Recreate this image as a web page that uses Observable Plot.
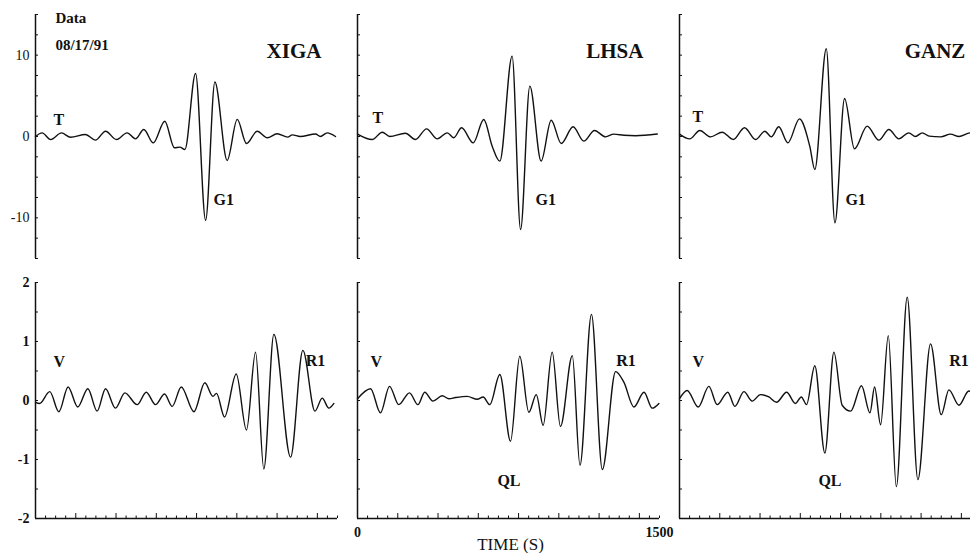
<!DOCTYPE html>
<html>
<head>
<meta charset="utf-8">
<script src="https://cdn.jsdelivr.net/npm/d3@7"></script>
<script src="https://cdn.jsdelivr.net/npm/@observablehq/plot@0.6"></script>
<style>
html, body { margin: 0; padding: 0; background: #fff; overflow: hidden; }
#chart { position: relative; width: 970px; height: 553px; overflow: hidden; background: #fff; }
#chart > div { position: absolute; }
#chart svg { max-width: none !important; display: block; }
</style>
</head>
<body>
<div id="chart"></div>
<script>
// ---------- data ----------
const stations = ["XIGA", "LHSA", "GANZ"];
const components = ["T", "V"];

// Transverse (T) traces: time (s) and amplitude
const xigaT_time = [0, 33, 75, 129, 174, 248, 298, 348, 402, 455, 497, 538, 585, 642, 690, 717, 742, 795, 845, 891, 952, 1002, 1048, 1101, 1151, 1200, 1253, 1275, 1315, 1391, 1415, 1449, 1490];
const xigaT_amp  = [0, 0.45, -0.37, 0.45, -0.1, 0.25, -0.45, 0.65, -0.37, 0.45, -0.29, 0.86, -0.78, 1.88, -1.38, -1.31, -1.6, 7.75, -10.3, 6.7, -2.95, 2.1, -0.86, 0.65, -0.16, 0.33, -0.08, 0.2, 0.0, 0.3, 0.0, 0.45, 0];

const lhsaT_time = [0, 73, 123, 160, 238, 288, 343, 396, 446, 478, 517, 575, 627, 669, 707, 768, 810, 856, 912, 962, 1012, 1071, 1124, 1177, 1232, 1273, 1323, 1381, 1489];
const lhsaT_amp  = [0.3, -0.37, 0.53, 0.0, 0.4, -0.37, 0.94, -0.29, 0.45, -0.16, 1.07, -0.78, 2.09, -1.19, -3.03, 9.88, -11.44, 6.19, -3.03, 2.0, -0.86, 1.19, -0.57, 0.74, -0.04, 0.29, 0.16, 0.1, 0.3];

const ganzT_time = [0, 51, 101, 154, 212, 267, 323, 378, 424, 456, 493, 538, 596, 647, 672, 729, 772, 820, 869, 932, 990, 1040, 1089, 1139, 1172, 1206, 1240, 1297, 1346, 1388, 1446, 1500];
const ganzT_amp  = [0.3, -0.29, 0.74, -0.04, 0.53, -0.37, 1.07, -0.37, 0.65, -0.04, 1.19, -0.78, 2.17, -1.19, -4.06, 10.78, -10.62, 4.67, -1.52, 1.27, -0.45, 0.86, -0.29, 0.45, 0.0, 0.45, 0.05, -0.04, 0.29, 0.0, 0.45, 0.2];

// Vertical (V) traces
const xigaV_time = [0, 20, 71, 116, 162, 210, 260, 306, 348, 397, 444, 505, 550, 596, 641, 679, 724, 787, 841, 881, 899, 939, 997, 1048, 1093, 1134, 1184, 1267, 1328, 1388, 1424, 1457, 1482];
const xigaV_amp  = [-0.03, -0.05, 0.15, -0.19, 0.23, -0.11, 0.2, -0.18, 0.2, -0.13, 0.13, -0.07, 0.14, -0.07, 0.11, -0.1, 0.23, -0.19, 0.3, 0.07, 0.12, -0.28, 0.45, -0.5, 0.82, -1.16, 1.12, -0.96, 0.85, -0.18, 0.04, -0.13, -0.05];

const lhsaV_time = [0, 65, 114, 159, 205, 258, 300, 334, 374, 421, 454, 487, 545, 595, 624, 657, 707, 760, 806, 851, 888, 922, 967, 1008, 1067, 1105, 1162, 1216, 1282, 1323, 1373, 1423, 1464, 1497];
const lhsaV_amp  = [0.03, 0.2, -0.21, 0.24, -0.07, 0.13, -0.07, 0.14, -0.01, 0.08, 0.03, 0.05, 0.07, 0.02, 0.06, -0.07, 0.44, -0.69, 0.75, -0.2, 0.1, -0.42, 0.82, -0.44, 0.76, -1.1, 1.46, -1.17, 0.49, 0.31, -0.11, 0.14, -0.13, -0.05];

const ganzV_time = [0, 38, 93, 146, 187, 240, 275, 320, 361, 402, 444, 482, 532, 576, 605, 631, 672, 722, 767, 808, 850, 904, 946, 969, 999, 1037, 1077, 1131, 1184, 1247, 1300, 1338, 1388, 1437, 1480];
const ganzV_amp  = [0.03, 0.17, -0.11, 0.24, -0.07, 0.14, -0.1, 0.15, -0.01, 0.1, 0.06, -0.03, 0.14, -0.05, 0.06, -0.07, 0.59, -0.89, 0.82, -0.08, -0.18, 0.25, -0.21, 0.23, -0.41, 1.1, -1.46, 1.75, -1.34, 0.96, -0.24, 0.18, -0.08, 0.16, 0.1];

// tick values
const topYTicks = [-15, -12.5, -10, -7.5, -5, -2.5, 0, 2.5, 5, 7.5, 10, 12.5, 15];
const topYLabels = [10, 0, -10];
const bottomYTicks = [-2, -1.5, -1, -0.5, 0, 0.5, 1, 1.5, 2];
const bottomYLabels = [2, 1, 0, -1, -2];
const xMajorTicks = [0, 200, 400, 600, 800, 1000, 1200, 1400];
const xMinorTicks = [50, 100, 150, 250, 300, 350, 450, 500, 550, 650, 700, 750, 850, 900, 950, 1050, 1100, 1150, 1250, 1300, 1350, 1450, 1500];
const xLabels = [0, 1500];
const xTitle = "TIME (S)";

// phase annotations
const topNotes = [
  [{s: "T", t: 89, v: 2.1}, {s: "G1", t: 884, v: -7.85}],
  [{s: "T", t: 75, v: 2.3}, {s: "G1", t: 884, v: -7.75}],
  [{s: "T", t: 65, v: 2.45}, {s: "G1", t: 824, v: -7.75}]
];
const bottomNotes = [
  [{s: "V", t: 89, v: 0.66}, {s: "R1", t: 1342, v: 0.68}],
  [{s: "V", t: 65, v: 0.66}, {s: "R1", t: 1285, v: 0.68}, {s: "QL", t: 695, v: -1.37}],
  [{s: "V", t: 65, v: 0.66}, {s: "R1", t: 1340, v: 0.68}, {s: "QL", t: 690, v: -1.37}]
];

const traces = [
  [[xigaT_time, xigaT_amp], [lhsaT_time, lhsaT_amp], [ganzT_time, ganzT_amp]],
  [[xigaV_time, xigaV_amp], [lhsaV_time, lhsaV_amp], [ganzV_time, ganzV_amp]]
];

// ---------- drawing ----------
const FONT = "'Liberation Serif', 'Times New Roman', serif";
const chart = document.getElementById("chart");
const axisXs = [35, 357, 679];

function makePanel(row, col) {
  const isTop = row === 0;
  const marginLeft = 35, marginRight = 5, fw = 302;
  const marginTop = isTop ? 14 : 12;
  const fh = isTop ? 244 : 236;
  const marginBottom = isTop ? 4 : 35;
  const yDomain = isTop ? [-15, 15] : [-2, 2];
  const [times, amps] = traces[row][col];
  const pts = times.map((t, i) => ({t, v: amps[i]}));
  const notes = (isTop ? topNotes : bottomNotes)[col];
  const W = marginLeft + fw + marginRight;
  const H = marginTop + fh + marginBottom;

  const marks = [
    Plot.ruleX([0], {y1: yDomain[0], y2: yDomain[1], stroke: "#111", strokeWidth: 1.5}),
    Plot.tickY(isTop ? topYTicks : bottomYTicks, {y: d => d, insetRight: fw - 3, stroke: "#111", strokeWidth: 1}),
    Plot.line(pts, {x: "t", y: "v", curve: "monotone-x", stroke: "#111", strokeWidth: 1.4}),
    Plot.text(notes, {x: "t", y: "v", text: "s", textAnchor: "start", lineAnchor: "middle", fontSize: 16, fontWeight: "bold", fill: "#111"})
  ];

  if (!isTop) {
    marks.push(
      Plot.ruleY([-2], {x1: 0, x2: 1500, stroke: "#111", strokeWidth: 1.5}),
      Plot.tickX(xMajorTicks, {x: d => d, insetTop: fh - 5, stroke: "#111", strokeWidth: 1}),
      Plot.tickX(xMinorTicks, {x: d => d, insetTop: fh - 2.5, stroke: "#111", strokeWidth: 1})
    );
  }
  if (isTop) {
    marks.push(Plot.text([stations[col]], {x: 1420, y: 10.45, textAnchor: "end", lineAnchor: "middle", fontSize: 21, fontWeight: "bold", fill: "#111"}));
  }
  if (col === 0) {
    marks.push(Plot.text(isTop ? topYLabels : bottomYLabels, {
      y: d => d, text: d => String(d), frameAnchor: "left", dx: -6,
      textAnchor: "end", lineAnchor: "middle", fontSize: 14, fontWeight: isTop ? "normal" : "bold", fill: "#111"
    }));
    if (isTop) {
      marks.push(Plot.text(["Data"], {x: 99, y: 14.6, textAnchor: "start", lineAnchor: "middle", fontSize: 15, fontWeight: 600, fill: "#111"}));
      marks.push(Plot.text(["08/17/91"], {x: 99, y: 11.2, textAnchor: "start", lineAnchor: "middle", fontSize: 15, fontWeight: 600, fill: "#111"}));
    }
  }
  if (!isTop && col === 1) {
    marks.push(Plot.text(xLabels, {x: d => d, text: d => String(d), frameAnchor: "bottom", dy: 14, lineAnchor: "middle", fontSize: 14, fontWeight: 600, fill: "#111"}));
    marks.push(Plot.text([xTitle], {x: 760, frameAnchor: "bottom", dy: 26, lineAnchor: "middle", fontSize: 17, fill: "#111"}));
  }

  const plot = Plot.plot({
    width: W,
    height: H,
    marginLeft, marginRight, marginTop, marginBottom,
    x: {domain: [0, 1500], axis: null},
    y: {domain: yDomain, axis: null},
    style: {fontFamily: FONT, background: "transparent", color: "#111", overflow: "visible", maxWidth: "none"},
    marks
  });
  const wrap = document.createElement("div");
  wrap.style.left = (axisXs[col] - marginLeft) + "px";
  wrap.style.top = (isTop ? 0 : 270) + "px";
  wrap.style.width = W + "px";
  wrap.style.height = H + "px";
  wrap.appendChild(plot);
  chart.appendChild(wrap);
}

for (let r = 0; r < components.length; r++) {
  for (let c = 0; c < stations.length; c++) makePanel(r, c);
}
</script>
</body>
</html>
